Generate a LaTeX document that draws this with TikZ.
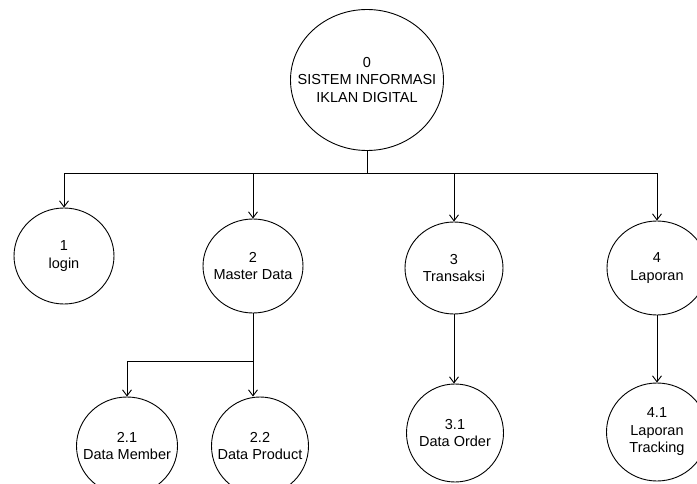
\documentclass[tikz,border=0pt]{standalone}
\usepackage{fontspec}
\setmainfont{Liberation Sans}
\usetikzlibrary{shapes.geometric,arrows.meta}
\tikzset{
  % the outline size comes from minimum width/height alone, never from the text
  proc/.style={draw=black, line width=0.9pt, ellipse, inner sep=-80pt, align=center,
    font=\fontsize{14.5}{17.5}\selectfont},
  link/.style={draw=black, line width=0.9pt},
  arr/.style={link, -{Straight Barb[length=6pt,width=9pt,line width=0.9pt]}}
}
\begin{document}
\begin{tikzpicture}[x=1pt,y=-1pt]
  \useasboundingbox (0,0) rectangle (697,484);
  \clip (0,0) rectangle (697,484);
  \fill[white] (0,0) rectangle (697,484);

  % top-level process
  \node[proc, minimum width=153pt, minimum height=141pt] (n0) at (367,80)
    {0\\SISTEM INFORMASI\\IKLAN DIGITAL};

  % first level
  \node[proc, minimum width=100pt, minimum height=96pt] (n1) at (64,256) {1\\login};
  \node[proc, minimum width=100pt, minimum height=94pt] (n2) at (253,266) {2\\Master Data};
  \node[proc, minimum width=98pt, minimum height=92pt] (n3) at (454,268) {3\\Transaksi};
  \node[proc, minimum width=100pt, minimum height=94pt] (n4) at (657,268) {4\\Laporan};

  % second level
  \node[proc, minimum width=101pt, minimum height=98pt] (n21) at (127,446) {2.1\\Data Member};
  \node[proc, minimum width=97pt, minimum height=98pt] (n22) at (260,446) {2.2\\Data Product};
  \node[proc, minimum width=97pt, minimum height=98pt] (n31) at (455,433) {3.1\\Data Order};
  \node[proc, minimum width=101pt, minimum height=98pt] (n41) at (657,432) {4.1\\Laporan\\Tracking};

  % junctions
  \coordinate (j0) at (367,173);
  \coordinate (j2) at (253,361);

  % connectors from the top process
  \draw[link] (n0.south) -- (j0);
  \draw[arr] (j0) -| (n1.north);
  \draw[arr] (j0) -| (n2.north);
  \draw[arr] (j0) -| (n3.north);
  \draw[arr] (j0) -| (n4.north);

  % Master Data branch
  \draw[link] (n2.south) -- (j2);
  \draw[arr] (j2) -| (n21.north);
  \draw[arr] (j2) -- (n22.north -| j2);

  % Transaksi and Laporan
  \draw[arr] (n3.south) -- (n31.north -| n3.south);
  \draw[arr] (n4.south) -- (n41.north);
\end{tikzpicture}
\end{document}
